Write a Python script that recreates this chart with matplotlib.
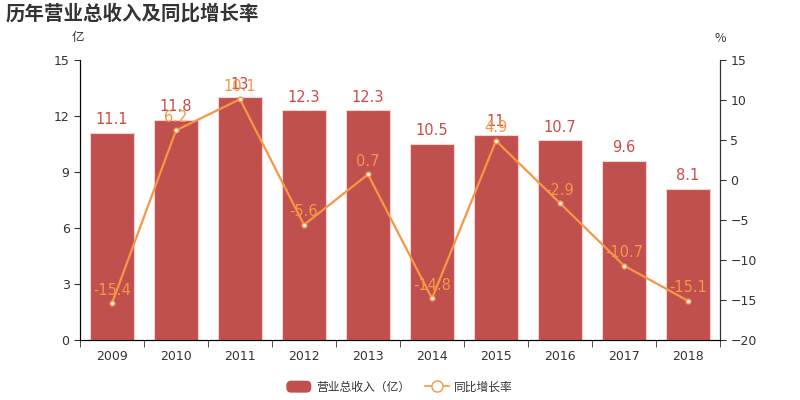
import matplotlib
matplotlib.use("Agg")
import matplotlib.pyplot as plt
from matplotlib.lines import Line2D
from matplotlib.patches import Patch, FancyBboxPatch
from matplotlib.legend_handler import HandlerPatch

plt.rcParams['font.family'] = ['DejaVu Sans', 'Noto Sans CJK SC']

years = ['2009', '2010', '2011', '2012', '2013', '2014', '2015', '2016', '2017', '2018']
revenue = [11.1, 11.8, 13, 12.3, 12.3, 10.5, 11, 10.7, 9.6, 8.1]
growth = [-15.4, 6.2, 10.1, -5.6, 0.7, -14.8, 4.9, -2.9, -10.7, -15.1]

bar_color = '#c0504d'
line_color = '#f79646'
text_color = '#333333'
cjk = ['Noto Sans CJK SC', 'DejaVu Sans']

fig = plt.figure(figsize=(8, 4), dpi=100)
ax = fig.add_axes([0.1, 0.15, 0.8, 0.7])
x = list(range(len(years)))
ax.bar(x, revenue, width=0.7, color=bar_color, edgecolor='#f2d4d3', linewidth=0.8, zorder=2)
ax.set_ylim(0, 15)
ax.set_yticks([0, 3, 6, 9, 12, 15])
ax.set_xlim(-0.5, len(years) - 0.5)
ax.set_xticks(x)
ax.set_xticklabels(years)
ax.set_xticks([i + 0.5 for i in range(-1, len(years))], minor=True)
ax.tick_params(axis='x', which='major', length=0, pad=7, labelsize=9, colors=text_color)
ax.tick_params(axis='x', which='minor', length=5, direction='out', color='#333333')
ax.tick_params(axis='y', labelsize=9, colors=text_color, length=4)
ax.spines['top'].set_visible(False)
for s in ['left', 'bottom', 'right']:
    ax.spines[s].set_color('#333333')
for xi, v in zip(x, revenue):
    ax.annotate(f'{v:g}', (xi, v), xytext=(0, 4), textcoords='offset points',
                ha='center', va='bottom', fontsize=10.5, color='#cd4a44', zorder=5)

ax2 = ax.twinx()
ax2.plot(x, growth, color=line_color, linewidth=1.6, marker='o', markersize=3.5,
         markerfacecolor='white', markeredgecolor=line_color, markeredgewidth=1, zorder=3)
ax2.set_ylim(-20, 15)
ax2.set_yticks([-20, -15, -10, -5, 0, 5, 10, 15])
ax2.tick_params(axis='y', labelsize=9, colors=text_color, length=4)
ax2.spines['top'].set_visible(False)
ax2.spines['right'].set_color('#333333')
for xi, v in zip(x, growth):
    ax2.annotate(f'{v:g}', (xi, v), xytext=(0, 4), textcoords='offset points',
                 ha='center', va='bottom', fontsize=10.5, color=line_color, zorder=5)

fig.text(0.007, 0.966, '历年营业总收入及同比增长率', fontsize=14, fontweight='bold',
         color='#333333', family=cjk, va='center', ha='left')
fig.text(0.098, 0.905, '亿', fontsize=9, color=text_color, family=cjk, ha='center', va='center')
fig.text(0.9, 0.903, '%', fontsize=9, color=text_color, family=cjk, ha='center', va='center')


class RoundHandler(HandlerPatch):
    def create_artists(self, legend, orig_handle, xdescent, ydescent, width, height, fontsize, trans):
        p = FancyBboxPatch((-xdescent, -ydescent), width, height,
                           boxstyle='round,pad=0,rounding_size=3',
                           facecolor=bar_color, edgecolor=bar_color, transform=trans)
        return [p]


bar_handle = Patch(facecolor=bar_color, edgecolor=bar_color)
line_handle = Line2D([0], [0], color=line_color, linewidth=1.2, marker='o', markersize=8,
                     markerfacecolor='white', markeredgecolor=line_color)
fig.legend([bar_handle, line_handle], ['营业总收入（亿）', '同比增长率'], loc='center',
           bbox_to_anchor=(0.5, 0.032), ncol=2, frameon=False,
           prop={'family': cjk, 'size': 8.5}, labelcolor=text_color,
           handlelength=2.0, handleheight=1.0, handletextpad=0.45, columnspacing=1.3,
           handler_map={Patch: RoundHandler()})

fig.savefig('out.png', dpi=100)
